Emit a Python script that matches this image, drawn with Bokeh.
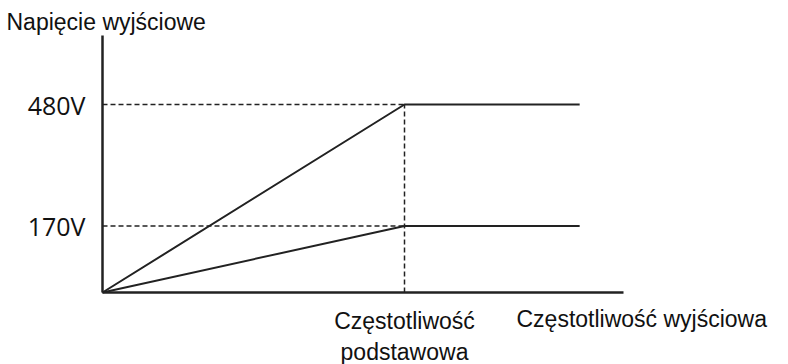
from bokeh.plotting import figure
from bokeh.models import Range1d, FixedTicker, Label, LinearAxis
from bokeh.embed import file_html
from bokeh.resources import INLINE

# ---- data (schematic V/f characteristic) ----
freq = [0, 50, 79]                 # output frequency points (base frequency = 50)
volt_480 = [0, 480, 480]           # 480 V characteristic
volt_170 = [0, 170, 170]           # 170 V characteristic
base_freq = 50
levels = [480, 170]
x_axis_max = 86.26
y_axis_max = 656
y_tick_labels = {480: "480V", 170: "170V"}
x_tick_labels = {50: "Częstotliwość\npodstawowa"}
y_title = "Napięcie wyjściowe"
x_title = "Częstotliwość wyjściowa"

# ---- layout (pixels) ----
W, H = 788, 364
X0_PX, Y0_PX = 102, 292          # where the origin sits
SX = 302 / base_freq             # px per frequency unit
SY = 188 / max(levels)           # px per volt

p = figure(width=W, height=H, output_backend="svg", toolbar_location=None,
           x_range=Range1d(-X0_PX / SX, (W - X0_PX) / SX),
           y_range=Range1d(-(H - Y0_PX) / SY, Y0_PX / SY),
           x_axis_location=None, y_axis_location=None,
           min_border=0)
p.outline_line_color = None
p.grid.visible = False
p.background_fill_color = "white"
p.border_fill_color = "white"

ink = "#222222"
txt = "#111111"

yax = LinearAxis(fixed_location=0, bounds=(0, y_axis_max),
                 ticker=FixedTicker(ticks=levels))
xax = LinearAxis(fixed_location=0, bounds=(0, x_axis_max),
                 ticker=FixedTicker(ticks=[base_freq]))
for ax in (xax, yax):
    ax.axis_line_color = ink
    ax.axis_line_width = 2.5
    ax.major_tick_line_color = None
    ax.minor_tick_line_color = None
    ax.major_tick_out = 0
    ax.major_tick_in = 0
    ax.major_label_text_color = txt

yax.major_label_overrides = y_tick_labels
yax.major_label_text_font = "Open Sans"
yax.major_label_text_font_size = "25px"
yax.major_label_standoff = 17

xax.major_label_overrides = x_tick_labels
xax.major_label_text_font = "Liberation Sans"
xax.major_label_text_font_size = "23px"
xax.major_label_standoff = 15

p.add_layout(yax, "left")
p.add_layout(xax, "below")

# characteristic lines
p.line(freq, volt_480, line_color=ink, line_width=2)
p.line(freq, volt_170, line_color=ink, line_width=2)

# dashed guides
for lv in levels:
    p.line([0, base_freq], [lv, lv], line_color=ink, line_width=1.5, line_dash="5 3")
p.line([base_freq, base_freq], [0, max(levels)], line_color=ink,
       line_width=1.5, line_dash="5 3")

# titles (frame covers the whole canvas, so screen units = canvas pixels)
p.add_layout(Label(x=6, y=H - 21, x_units="screen", y_units="screen",
                   text=y_title, text_font="Liberation Sans",
                   text_font_size="23px", text_color=txt,
                   text_baseline="alphabetic", text_align="left"))
p.add_layout(Label(x=516, y=H - 318, x_units="screen", y_units="screen",
                   text=x_title, text_font="Liberation Sans",
                   text_font_size="23px", text_color=txt,
                   text_baseline="alphabetic", text_align="left"))

open("out.html", "w").write(file_html(p, INLINE))
